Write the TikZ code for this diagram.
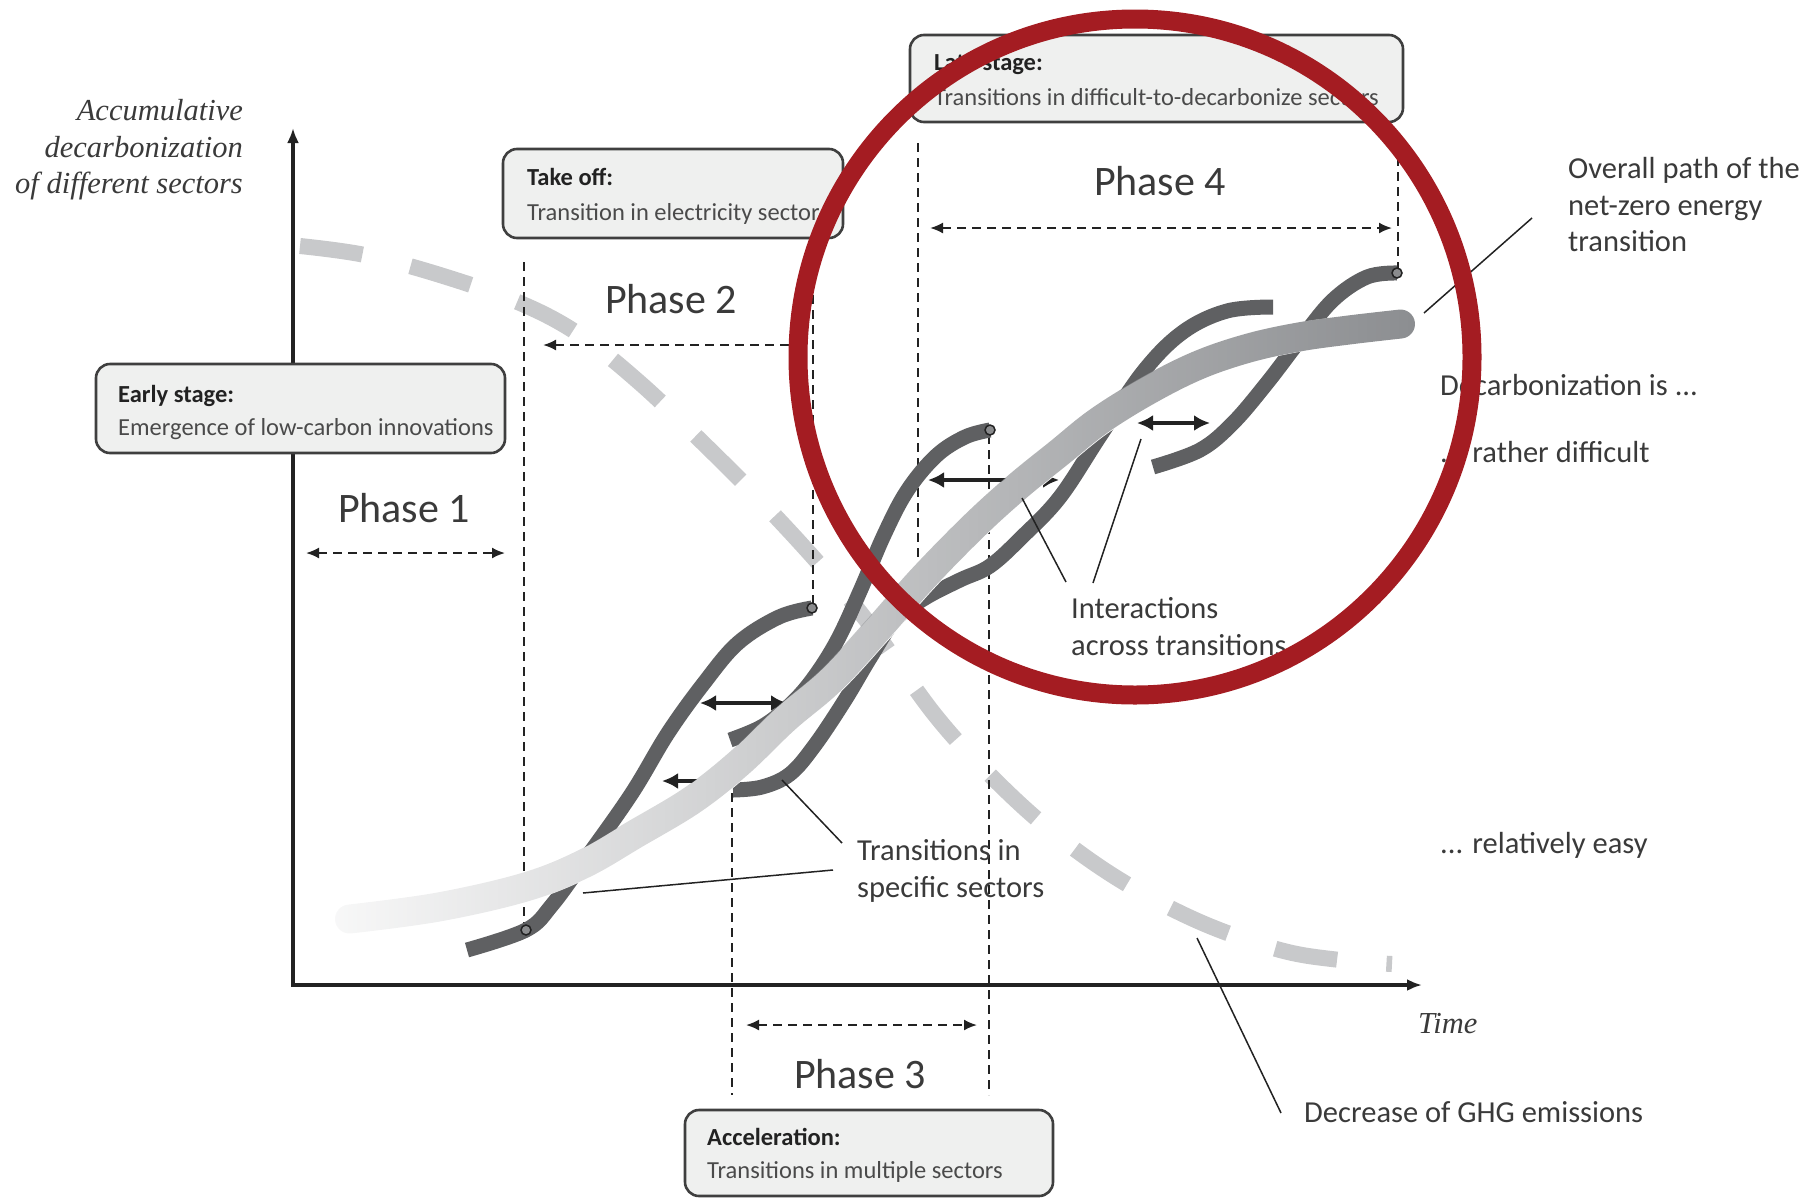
\documentclass[tikz,border=0pt]{standalone}
\usepackage{fontspec}
\setmainfont{Carlito}
\newfontfamily\axisserif{Liberation Serif}
\usetikzlibrary{arrows.meta,fadings}

\definecolor{curvegray}{HTML}{5F6062}
\definecolor{ghggray}{HTML}{C8C9CB}
\definecolor{bandgray}{HTML}{8C8E91}
\definecolor{boxfill}{HTML}{EFF0EF}
\definecolor{boxline}{HTML}{3F3F3F}
\definecolor{inkdark}{HTML}{222222}
\definecolor{inktext}{HTML}{3A3A3A}
\definecolor{inksub}{HTML}{4A4A4A}
\definecolor{markfill}{HTML}{8A8B8D}
\definecolor{circlered}{HTML}{A41C22}

\tikzfading[name=bandfade, left color=transparent!94, right color=transparent!0]

\newcommand\boxtitlefont{\fontsize{24.5}{29}\selectfont\bfseries}
\newcommand\boxsubfont{\fontsize{24.5}{29}\selectfont}
\newcommand\phasefont{\fontsize{42}{48}\selectfont}
\newcommand\annfont{\fontsize{30.5}{36}\selectfont}
\newcommand\axislabelfont{\axisserif\itshape\fontsize{30.5}{36}\selectfont}

\begin{document}
\begin{tikzpicture}[x=1pt,y=-1pt,
  ghg/.style={draw=ghggray, line width=16pt, dash pattern=on 63pt off 49.5pt},
  axisline/.style={draw=inkdark, line width=3.2pt, {Latex[length=15pt,width=12pt]}-{Latex[length=15pt,width=12pt]}},
  guide/.style={draw=inkdark, line width=1.8pt, dash pattern=on 9pt off 6pt},
  span/.style={draw=inkdark, line width=2pt, dash pattern=on 9pt off 6pt, {Latex[length=13pt,width=11pt]}-{Latex[length=13pt,width=11pt]}},
  spanleft/.style={draw=inkdark, line width=2pt, dash pattern=on 9pt off 6pt, {Latex[length=13pt,width=11pt]}-},
  sector/.style={draw=curvegray, line width=15pt},
  interact/.style={draw=inkdark, line width=4pt, {Latex[length=16pt,width=16pt]}-{Latex[length=16pt,width=16pt]}},
  interactleft/.style={draw=inkdark, line width=4pt, {Latex[length=16pt,width=16pt]}-},
  pointer/.style={draw=inkdark, line width=1.5pt},
  marker/.style={circle, draw=inkdark, fill=markfill, line width=1.5pt, inner sep=0pt, minimum size=10pt},
  stagebox/.style={draw=boxline, fill=boxfill, line width=2.6pt, rounded corners=14pt, inner sep=0pt},
  txt/.style={inner sep=0pt, anchor=base west},
  phase/.style={inner sep=0pt, anchor=base, text=inktext},
]
\useasboundingbox (0,0) rectangle (1812,1197);

% decreasing GHG emissions (light dashed curve)
\draw[ghg] plot[smooth, tension=0.6] coordinates {(300,246) (365,255) (440,275) (520,303) (580,335) (640,383) (700,440) (760,500) (820,565) (870,625) (935,715) (990,775) (1050,830) (1120,880) (1200,922) (1280,950) (1340,960) (1392,964)};

% axes
\coordinate (ytip) at (293,128);
\coordinate (origin) at (293,985);
\coordinate (xtip) at (1422,985);
\draw[axisline] (ytip) -- (origin) -- (xtip);

% phase boundaries
\draw[guide] (524,262) -- (524,925);
\draw[guide] (813,280) -- (813,603);
\draw[guide] (732,793) -- (732,1095);
\draw[guide] (989,435) -- (989,1095);
\draw[guide] (918,143) -- (918,557);
\draw[guide] (1398,157) -- (1398,268);

% phase spans
\draw[span] (306,553) -- (505,553);
\draw[spanleft] (543,345) -- (795,345);
\draw[span] (746,1025) -- (977,1025);
\draw[span] (930,228) -- (1392,228);

\node[phase] (ph1) at (404,522) {\phasefont Phase 1};
\node[phase] (ph2) at (671,313) {\phasefont Phase 2};
\node[phase] (ph3) at (860,1088) {\phasefont Phase 3};
\node[phase] (ph4) at (1160,195) {\phasefont Phase 4};

% transitions in specific sectors
\draw[sector] plot[smooth, tension=0.6] coordinates {(467,950) (526,930) (552,905) (587,857) (632,793) (668,733) (704,683) (738,643) (779,617) (812,608)};
\draw[sector] plot[smooth, tension=0.6] coordinates {(730,740) (763,726) (792,703) (815,676) (838,639) (861,589) (884,535) (907,491) (936,456) (965,437) (990,430)};
\draw[sector] plot[smooth, tension=0.6] coordinates {(733,790) (762,787) (790,774) (815,745) (845,700) (870,658) (895,620) (925,598) (960,580) (990,566) (1022,537) (1060,497) (1100,436) (1143,372) (1183,332) (1227,311) (1273,307)};
\draw[sector] plot[smooth, tension=0.6] coordinates {(1153,467) (1200,450) (1233,423) (1267,383) (1300,340) (1333,300) (1367,277) (1397,273)};

\node[marker] (m1) at (526,930) {};
\node[marker] (m2) at (812,608) {};
\node[marker] (m3) at (990,430) {};
\node[marker] (m4) at (1397,273) {};

% interactions across transitions
\draw[interact] (700,703) -- (787,703);
\draw[interactleft] (662,781) -- (712,781);
\draw[interact] (928,480) -- (1059,480);
\draw[interact] (1137,423) -- (1210,423);

% overall path of the transition (white underlay, then faded gray)
\draw[white, line width=29pt, line cap=round] plot[smooth, tension=0.6] coordinates {(350,919) (439,907) (526,887) (584,864) (636,834) (693,800) (740,763) (786,719) (832,680) (878,630) (924,578) (975,526) (1018,487) (1060,453) (1100,421) (1150,390) (1200,365) (1250,348) (1300,337) (1350,330) (1402,324)};
\draw[bandgray, line width=29pt, line cap=round, path fading=bandfade] plot[smooth, tension=0.6] coordinates {(350,919) (439,907) (526,887) (584,864) (636,834) (693,800) (740,763) (786,719) (832,680) (878,630) (924,578) (975,526) (1018,487) (1060,453) (1100,421) (1150,390) (1200,365) (1250,348) (1300,337) (1350,330) (1402,324)};

% stage boxes
\node[stagebox, minimum width=409pt, minimum height=89pt] (early) at (300.5,408.5) {};
\node[txt, text=inkdark] (earlyT) at (118,402) {\boxtitlefont Early stage:};
\node[txt, text=inksub] (earlyS) at (118,435) {\boxsubfont Emergence of low-carbon innovations};

\node[stagebox, minimum width=340pt, minimum height=89pt] (takeoff) at (673,193.5) {};
\node[txt, text=inkdark] (takeoffT) at (527,185) {\boxtitlefont Take off:};
\node[txt, text=inksub] (takeoffS) at (527,220) {\boxsubfont Transition in electricity sector};

\node[stagebox, minimum width=493pt, minimum height=87pt] (late) at (1156.5,78.5) {};
\node[txt, text=inkdark] (lateT) at (934,70) {\boxtitlefont Late stage:};
\node[txt, text=inksub] (lateS) at (934,105) {\boxsubfont Transitions in difficult-to-decarbonize sectors};

\node[stagebox, minimum width=368pt, minimum height=86pt] (accel) at (869,1153) {};
\node[txt, text=inkdark] (accelT) at (707,1145) {\boxtitlefont Acceleration:};
\node[txt, text=inksub] (accelS) at (707,1178) {\boxsubfont Transitions in multiple sectors};

% axis labels
\node[inner sep=0pt, anchor=base east, text=inktext] (yl1) at (243,120) {\axislabelfont Accumulative};
\node[inner sep=0pt, anchor=base east, text=inktext] (yl2) at (243,157) {\axislabelfont decarbonization};
\node[inner sep=0pt, anchor=base east, text=inktext] (yl3) at (243,193) {\axislabelfont of different sectors};
\node[txt, text=inktext] (xl) at (1418,1033) {\axislabelfont Time};

% annotations
\node[txt, text=inktext] (tr1) at (857,860) {\annfont Transitions in};
\node[txt, text=inktext] (tr2) at (857,897) {\annfont specific sectors};
\coordinate (trA) at (782,780);
\coordinate (trB) at (583,893);
\draw[pointer] (842,843) -- (trA);
\draw[pointer] (833,870) -- (trB);

\node[txt, text=inktext] (in1) at (1071,618) {\annfont Interactions};
\node[txt, text=inktext] (in2) at (1071,655) {\annfont across transitions};
\coordinate (inA) at (1022,498);
\coordinate (inB) at (1141,439);
\draw[pointer] (1066,582) -- (inA);
\draw[pointer] (1093,583) -- (inB);

\node[txt, text=inktext] (ov1) at (1568,178) {\annfont Overall path of the};
\node[txt, text=inktext] (ov2) at (1568,215) {\annfont net-zero energy};
\node[txt, text=inktext] (ov3) at (1568,251) {\annfont transition};
\coordinate (ovA) at (1424,313);
\draw[pointer] (1532,218) -- (ovA);

\node[txt, text=inktext] (dc) at (1440,395) {\annfont Decarbonization is ...};
\node[txt, text=inktext] (df) at (1440,462) {\annfont ... rather difficult};
\node[txt, text=inktext] (ea) at (1440,853) {\annfont ... relatively easy};

\node[txt, text=inktext] (gh) at (1304,1122) {\annfont Decrease of GHG emissions};
\coordinate (ghA) at (1197,938);
\draw[pointer] (1281,1113) -- (ghA);

% highlight ring
\draw[circlered, line width=19pt] (1135,357) ellipse [x radius=337, y radius=338];
\end{tikzpicture}
\end{document}
